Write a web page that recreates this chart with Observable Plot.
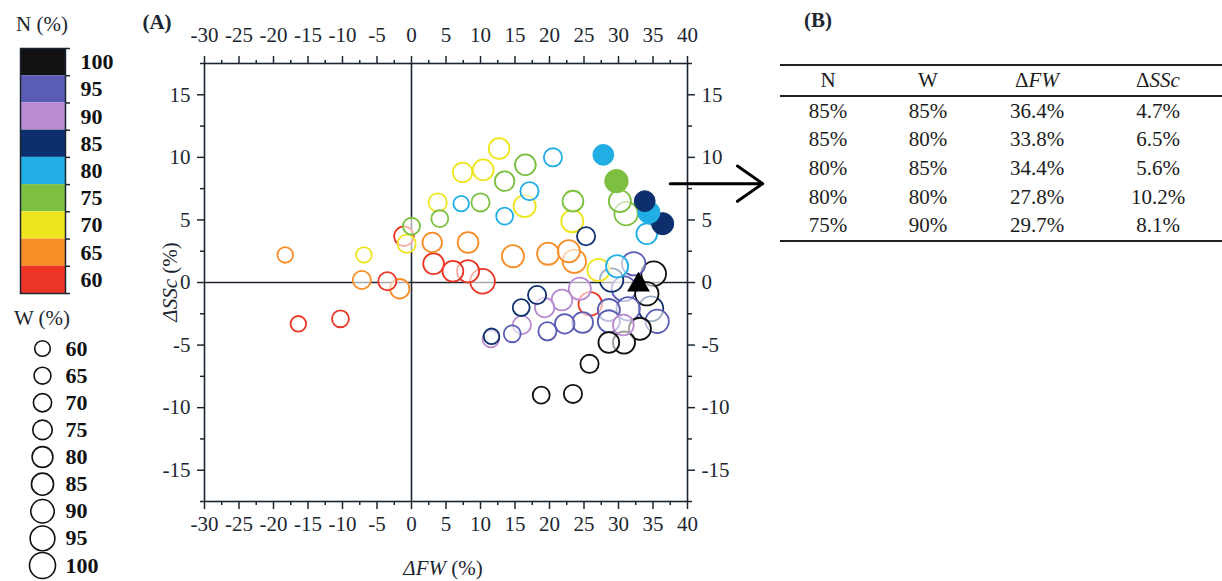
<!DOCTYPE html>
<html><head><meta charset="utf-8">
<script src="https://cdn.jsdelivr.net/npm/d3@7"></script>
<script src="https://cdn.jsdelivr.net/npm/@observablehq/plot@0.6"></script>
<style>
body{margin:0;background:#fff;}
#wrap{position:relative;width:1222px;height:581px;font-family:"Liberation Serif","Times New Roman",Times,serif;color:#1c2630;overflow:hidden;background:#fff}
.abs{position:absolute;white-space:nowrap;line-height:1}
#tbl{position:absolute;left:780px;top:64px;width:442px;border-collapse:collapse;font-size:21px;color:#1c1c1c;border-top:2px solid #222;border-bottom:2px solid #222}
#tbl th{font-weight:normal;height:29px;padding:0;border-bottom:2px solid #222;text-align:center}
#tbl td{height:28.6px;padding:0;text-align:center}
</style></head><body>
<div id="wrap"></div>
<script>
// ---- legend levels ----
const nLevels = [60, 65, 70, 75, 80, 85, 90, 95, 100];
const nColors = ["#ec3524", "#f68d26", "#eee520", "#7cbf41", "#20aee5", "#0d2f6e", "#b98bd0", "#5b5db5", "#111111"];
const wLevels = [60, 65, 70, 75, 80, 85, 90, 95, 100];

// ---- axis ticks ----
const xMajor = d3.range(-30, 41, 5);
const xMinor = d3.range(-27.5, 40, 5);
const yMajor = d3.range(-15, 16, 5);
const yMinor = [-17.5, -12.5, -7.5, -2.5, 2.5, 7.5, 12.5, 17.5];

// ---- open circles: ΔFW (%), ΔSSc (%), N (%), W (%) ----
const openFW  = [-18.3, -6.9, -7.2, -3.5, -1.7, -1.1, -0.7, 0.0, -16.4, -10.3,
  3.8, 4.1, 3.0, 3.2, 6.0, 8.2, 10.3, 8.2, 7.2, 7.4, 10.4, 12.7, 10.0, 13.5, 16.5, 13.5, 17.1, 16.4, 20.5,
  14.7, 19.8, 22.8, 23.6, 23.4, 23.3, 25.3, 30.2, 31.1, 34.1,
  27.1, 29.8, 32.2, 35.1, 29.0, 30.8, 34.1, 24.4, 18.2, 21.8, 25.9, 15.9, 19.3, 16.0, 11.6, 11.5, 14.6,
  19.7, 22.2, 24.8, 28.6, 28.6, 30.7, 31.4, 34.7, 35.6, 33.1, 30.8, 28.6, 25.8, 18.8, 23.4];
const openSSc = [2.2, 2.2, 0.2, 0.1, -0.5, 3.7, 3.1, 4.5, -3.3, -2.9,
  6.4, 5.1, 3.2, 1.5, 0.9, 0.9, 0.1, 3.2, 6.3, 8.8, 9.0, 10.7, 6.4, 8.1, 9.4, 5.3, 7.3, 6.1, 10.0,
  2.1, 2.3, 2.5, 1.7, 6.5, 4.9, 3.7, 6.5, 5.5, 3.9,
  1.0, 1.3, 1.5, 0.7, 0.2, -0.5, -0.9, -0.5, -1.0, -1.4, -1.7, -2.0, -2.0, -3.4, -4.3, -4.5, -4.1,
  -3.9, -3.3, -3.2, -2.2, -3.1, -3.4, -2.1, -2.1, -3.1, -3.7, -4.8, -4.8, -6.5, -9.0, -8.9];
const openN   = [65, 70, 65, 60, 65, 60, 70, 75, 60, 60,
  70, 75, 65, 60, 60, 60, 60, 65, 80, 70, 70, 70, 75, 75, 75, 80, 80, 70, 80,
  65, 65, 65, 65, 75, 70, 85, 75, 75, 80,
  70, 80, 95, 100, 85, 95, 100, 90, 85, 90, 60, 85, 90, 90, 85, 90, 95,
  95, 95, 95, 95, 95, 90, 95, 85, 95, 100, 100, 100, 100, 100, 100];
const openW   = [60, 60, 70, 70, 75, 75, 70, 65, 60, 65,
  70, 65, 75, 80, 80, 85, 95, 80, 60, 75, 80, 80, 70, 75, 80, 65, 70, 85, 70,
  85, 85, 85, 90, 80, 85, 70, 85, 90, 80,
  85, 85, 90, 95, 90, 95, 90, 85, 70, 80, 90, 65, 75, 70, 60, 65, 65,
  70, 75, 80, 85, 85, 80, 90, 95, 90, 85, 85, 80, 70, 65, 70];

// ---- table (B) = filled circles ----
const tabN   = [85, 85, 80, 80, 75];
const tabW   = [85, 80, 85, 80, 90];
const tabFW  = [36.4, 33.8, 34.4, 27.8, 29.7];
const tabSSc = [4.7, 6.5, 5.6, 10.2, 8.1];

// ---- reference point (triangle) ----
const refFW = [32.9];
const refSSc = [-0.2];

// ---- arrow pointing to the table (data units) ----
const arrowX = [37.5, 50.9];
const arrowY = [7.9, 7.9];

const openPts = openFW.map((v, i) => ({fw: v, ssc: openSSc[i], n: openN[i], w: openW[i]}));
const filledPts = tabFW.map((v, i) => ({fw: v, ssc: tabSSc[i], n: tabN[i], w: tabW[i]}));
const refPts = refFW.map((v, i) => ({fw: v, ssc: refSSc[i]}));
const arrowPts = [{x1: arrowX[0], x2: arrowX[1], y1: arrowY[0], y2: arrowY[1]}];

const ink = "#1c2630";
const colorScale = {type: "ordinal", domain: nLevels, range: nColors};
const rScale = {type: "linear", domain: [0, 100], range: [0, 13]};
const baseStyle = {fontFamily: "Liberation Serif, Times New Roman, Times, serif", fontSize: "21px", color: ink, background: "transparent", overflow: "visible"};
const fmt = d => String(d);
const blank = () => "";

const main = Plot.plot({
  width: 800, height: 581,
  marginLeft: 204, marginRight: 113, marginTop: 63, marginBottom: 80,
  x: {domain: [-30, 40], label: null},
  y: {domain: [-17.5, 17.5], label: null},
  color: colorScale, r: rScale,
  style: baseStyle,
  marks: [
    Plot.ruleX([0], {stroke: ink, strokeWidth: 1.6}),
    Plot.ruleY([0], {stroke: ink, strokeWidth: 1.6}),
    Plot.axisX({anchor: "top", ticks: xMajor, tickSize: 8, tickPadding: 14, tickFormat: fmt, strokeWidth: 1.5}),
    Plot.axisX({anchor: "top", ticks: xMinor, tickSize: 4, tickFormat: blank, strokeWidth: 1.5}),
    Plot.axisX({anchor: "bottom", ticks: xMajor, tickSize: 8, tickPadding: 7, tickFormat: fmt, strokeWidth: 1.5}),
    Plot.axisX({anchor: "bottom", ticks: xMinor, tickSize: 4, tickFormat: blank, strokeWidth: 1.5}),
    Plot.axisY({anchor: "left", ticks: yMajor, tickSize: 7, tickPadding: 7, tickFormat: fmt, strokeWidth: 1.5}),
    Plot.axisY({anchor: "left", ticks: yMinor, tickSize: 4, tickFormat: blank, strokeWidth: 1.5}),
    Plot.axisY({anchor: "right", ticks: yMajor, tickSize: 7, tickPadding: 7, tickFormat: fmt, strokeWidth: 1.5}),
    Plot.axisY({anchor: "right", ticks: yMinor, tickSize: 4, tickFormat: blank, strokeWidth: 1.5}),
    Plot.frame({stroke: ink, strokeWidth: 1.6}),
    Plot.dot(openPts, {x: "fw", y: "ssc", r: "w", stroke: "n", strokeWidth: 1.8, fill: "white", fillOpacity: 0.6}),
    Plot.dot(filledPts, {x: "fw", y: "ssc", r: "w", fill: "n", stroke: "n", strokeWidth: 1}),
    Plot.dot(refPts, {x: "fw", y: "ssc", symbol: "triangle", r: 7.5, fill: "#000", stroke: "#000"}),
    Plot.arrow(arrowPts, {x1: "x1", y1: "y1", x2: "x2", y2: "y2", stroke: "#000", strokeWidth: 3, headLength: 16, headAngle: 70})
  ]
});

const legendRows = nLevels.slice().reverse().map((n, i) => ({n, i}));
const nLegend = Plot.plot({
  width: 140, height: 300,
  marginTop: 48, marginBottom: 7, marginLeft: 20, marginRight: 75,
  x: {domain: [0, 1], axis: null, label: null},
  y: {domain: [0, nLevels.length], reverse: true, axis: null, label: null},
  color: colorScale,
  style: baseStyle,
  marks: [
    Plot.rect(legendRows, {x1: 0, x2: 1, y1: "i", y2: d => d.i + 1, fill: "n"}),
    Plot.axisY({anchor: "right", label: null, ticks: d3.range(0, nLevels.length + 1), tickSize: 4, tickFormat: blank, strokeWidth: 1.5}),
    Plot.frame({stroke: ink, strokeWidth: 1.5}),
    Plot.text(legendRows, {x: 1, y: d => d.i + 0.5, text: d => String(d.n), dx: 15, textAnchor: "start", fontWeight: "bold", fontSize: 22, fill: "#111"})
  ]
});

const wRows = wLevels.map((w, i) => ({w, i}));
const wLegend = Plot.plot({
  width: 140, height: 281,
  marginTop: 48, marginBottom: 16, marginLeft: 42, marginRight: 97,
  x: {domain: [0, 1], axis: null, label: null},
  y: {domain: [0, wLevels.length - 1], reverse: true, axis: null, label: null},
  r: rScale,
  style: baseStyle,
  marks: [
    Plot.dot(wRows, {x: 0, y: "i", r: "w", stroke: "#111", strokeWidth: 1.6}),
    Plot.text(wRows, {x: 0, y: "i", text: d => String(d.w), dx: 23, textAnchor: "start", fontWeight: "bold", fontSize: 22, fill: "#111"})
  ]
});

const wrap = document.getElementById("wrap");
function place(el, left, top) {
  const d = document.createElement("div");
  d.className = "abs"; d.style.left = left + "px"; d.style.top = top + "px";
  d.appendChild(el); wrap.appendChild(d); return d;
}
place(main, 0, 0);
place(nLegend, 0, 0);
place(wLegend, 0, 300);

function label(html, left, top, extra) {
  const d = document.createElement("div");
  d.className = "abs"; d.innerHTML = html;
  d.style.left = left + "px"; d.style.top = top + "px";
  d.style.transform = "translate(-50%,-50%)" + (extra || "");
  d.style.fontSize = "21px";
  wrap.appendChild(d); return d;
}
label("N (%)", 42, 24);
label("W (%)", 42, 318);
label("<b>(A)</b>", 157, 22);
label("<b>(B)</b>", 818, 20);
label("<i>ΔFW</i> (%)", 443, 568);
label("<i>ΔSSc</i> (%)", 170, 282, " rotate(-90deg)");

// table
const tbl = document.createElement("table");
tbl.id = "tbl";
const colW = [96, 104, 114, 128];
let h = "<colgroup>" + colW.map(w => `<col style="width:${w}px">`).join("") + "</colgroup>";
h += "<thead><tr><th>N</th><th>W</th><th>Δ<i>FW</i></th><th>Δ<i>SSc</i></th></tr></thead><tbody>";
tabN.forEach((n, i) => {
  h += `<tr><td>${n}%</td><td>${tabW[i]}%</td><td>${tabFW[i].toFixed(1)}%</td><td>${tabSSc[i].toFixed(1)}%</td></tr>`;
});
h += "</tbody>";
tbl.innerHTML = h;
wrap.appendChild(tbl);
</script>
</body></html>
